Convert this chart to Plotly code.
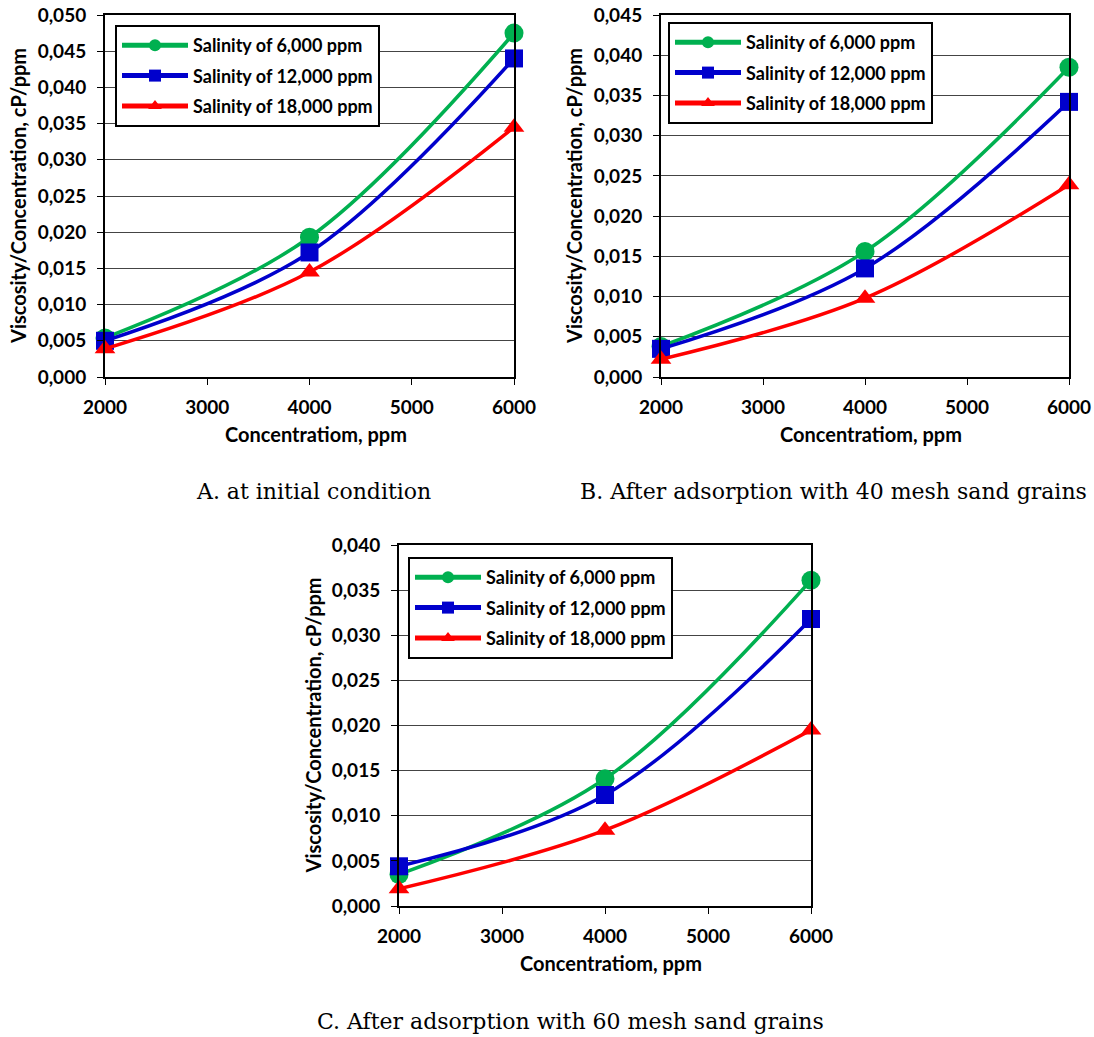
import plotly.graph_objects as go

conc = [2000, 4000, 6000]
series_names = ["Salinity of 6,000 ppm", "Salinity of 12,000 ppm", "Salinity of 18,000 ppm"]

# Panel A: initial condition
a_6000 = [0.0054, 0.0193, 0.0475]
a_12000 = [0.0050, 0.0172, 0.0440]
a_18000 = [0.0039, 0.0145, 0.0345]
# Panel B: after adsorption with 40 mesh sand
b_6000 = [0.0038, 0.0156, 0.0385]
b_12000 = [0.0035, 0.0135, 0.0342]
b_18000 = [0.0022, 0.0098, 0.0239]
# Panel C: after adsorption with 60 mesh sand
c_6000 = [0.0035, 0.0141, 0.0361]
c_12000 = [0.0044, 0.0123, 0.0318]
c_18000 = [0.0019, 0.0084, 0.0195]

x_ticks = [2000, 3000, 4000, 5000, 6000]
captions = ["A. at initial condition",
            "B. After adsorption with 40 mesh sand grains",
            "C. After adsorption with 60 mesh sand grains"]
y_title = "Viscosity/Concentration, cP/ppm"
x_title = "Concentratiom, ppm"

W, H = 1094, 1037
colors = ["#00B050", "#0000CC", "#FF0000"]
symbols = ["circle", "square", "triangle-up"]
msizes = [19, 18, 18]

def px(x):
    return x / W

def py(y):
    return 1 - y / H

panels = [
    dict(data=[a_6000, a_12000, a_18000], xd=(105, 514), yd=(15, 377), ymax=0.050,
         legend=(115, 25), cap=(313, 491)),
    dict(data=[b_6000, b_12000, b_18000], xd=(661, 1069), yd=(15, 377), ymax=0.045,
         legend=(668, 22), cap=(833, 491)),
    dict(data=[c_6000, c_12000, c_18000], xd=(399, 811), yd=(545, 906), ymax=0.040,
         legend=(408, 557), cap=(570, 1021)),
]

fig = go.Figure()
tickfont = dict(family="Lato", size=19, color="black", weight="bold")
titlefont = dict(family="Lato", size=20, color="black", weight="bold")
annotations = []
for i, p in enumerate(panels):
    n = "" if i == 0 else str(i + 1)
    legname = "legend" + n
    for j in range(3):
        fig.add_trace(go.Scatter(
            x=conc, y=p["data"][j], name=series_names[j],
            mode="lines+markers",
            line=dict(color=colors[j], width=3.5, shape="spline", smoothing=1.0),
            marker=dict(color=colors[j], symbol=symbols[j], size=msizes[j]),
            xaxis="x" + n, yaxis="y" + n, legend=legname,
            legendgroup=f"g{i}{j}", cliponaxis=False,
        ))
    yticks = [round(k * 0.005, 3) for k in range(int(round(p["ymax"] / 0.005)) + 1)]
    fig.update_layout({
        "xaxis" + n: dict(domain=[px(p["xd"][0]), px(p["xd"][1])], range=[2000, 6000],
                          anchor="y" + n, tickvals=x_ticks, tickformat="d",
                          showline=True, mirror=True, linecolor="black", linewidth=2,
                          ticks="outside", ticklen=6, tickcolor="black",
                          ticklabelstandoff=6, automargin=False,
                          tickfont=tickfont, showgrid=False, zeroline=False),
        "yaxis" + n: dict(domain=[py(p["yd"][1]), py(p["yd"][0])], range=[0, p["ymax"]],
                          anchor="x" + n, tickvals=yticks, tickformat=".3f",
                          showline=True, mirror=True, linecolor="black", linewidth=2,
                          ticks="outside", ticklen=6, tickcolor="black",
                          ticklabelstandoff=7, automargin=False,
                          tickfont=tickfont, showgrid=True, gridcolor="#444444",
                          gridwidth=1, zeroline=False),
        legname: dict(x=px(p["legend"][0]), y=py(p["legend"][1]), xanchor="left",
                      yanchor="top", bgcolor="white", bordercolor="black", borderwidth=2,
                      font=dict(family="Lato", size=18, color="black", weight="bold"),
                      itemsizing="constant", tracegroupgap=4, itemwidth=66,
                      entrywidth=190, entrywidthmode="pixels"),
    })
    xc = (p["xd"][0] + p["xd"][1]) / 2 + 6
    yc = (p["yd"][0] + p["yd"][1]) / 2
    annotations.append(dict(text=x_title, x=px(xc), y=py(p["yd"][1] + 57), xref="paper",
                            yref="paper", showarrow=False, xanchor="center", yanchor="middle",
                            font=titlefont))
    annotations.append(dict(text=y_title, x=px(p["xd"][0] - 87), y=py(yc), xref="paper",
                            yref="paper", showarrow=False, textangle=-90, xanchor="center",
                            yanchor="middle", font=titlefont))
    annotations.append(dict(text=captions[i], x=px(p["cap"][0]), y=py(p["cap"][1]),
                            xref="paper", yref="paper", showarrow=False, xanchor="center",
                            yanchor="middle",
                            font=dict(family="DejaVu Serif", size=22, color="black")))

fig.update_layout(width=W, height=H, margin=dict(l=0, r=0, t=0, b=0, pad=0, autoexpand=False),
                  paper_bgcolor="white", plot_bgcolor="white", separators=",.",
                  annotations=annotations, showlegend=True)

fig.write_html("out.html", config={"displayModeBar": False},
               post_script="document.body.style.margin='0';")
